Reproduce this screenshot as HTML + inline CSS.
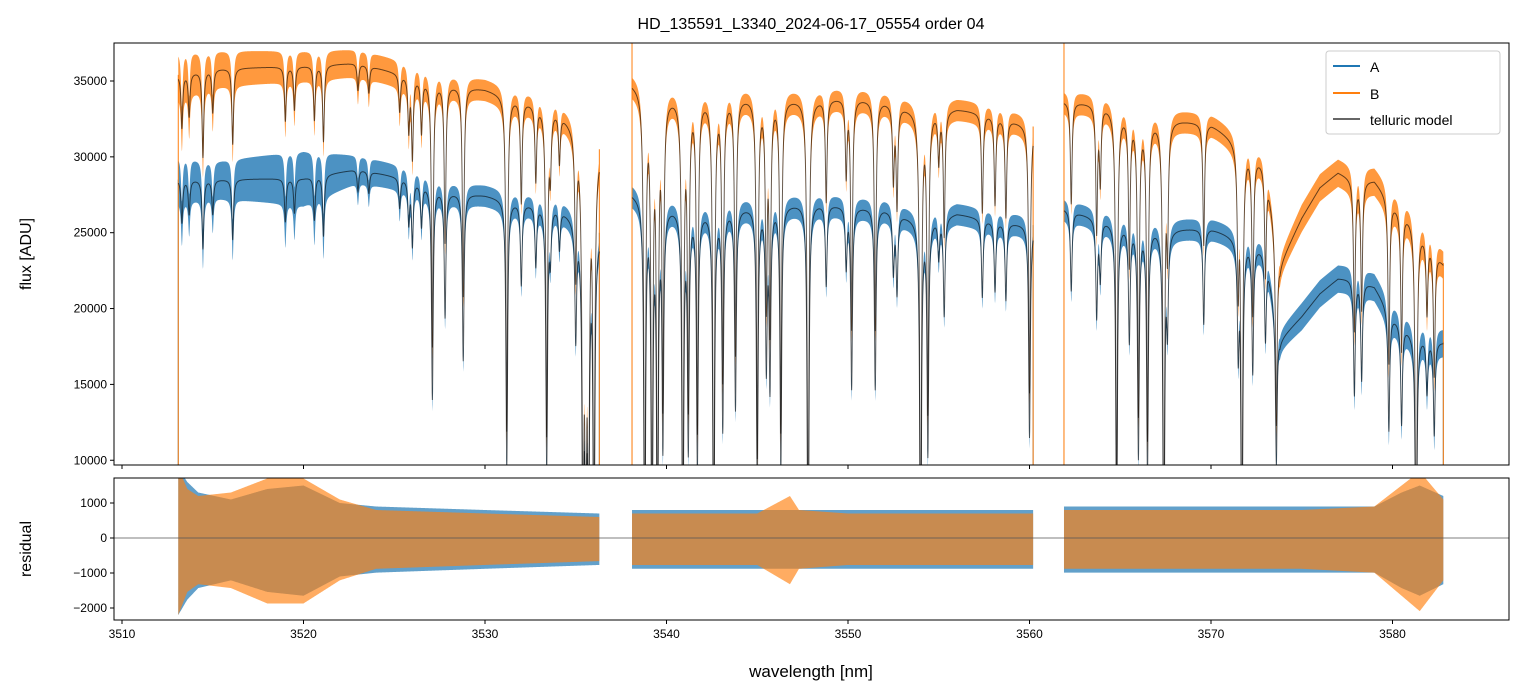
<!DOCTYPE html>
<html><head><meta charset="utf-8"><style>
body{margin:0;background:#fff}
svg{display:block;font-family:"Liberation Sans","DejaVu Sans",sans-serif}
</style></head><body>
<svg id="chart" width="1523" height="696" viewBox="0 0 1523 696">
<defs>
<clipPath id="cm"><rect x="114" y="43" width="1395" height="422"/></clipPath>
<clipPath id="cr"><rect x="114" y="478" width="1395" height="142"/></clipPath>
</defs>
<rect width="1523" height="696" fill="#fff"/>
<text x="811" y="29" text-anchor="middle" font-size="16">HD_135591_L3340_2024-06-17_05554  order 04</text>
<g id="main" clip-path="url(#cm)"></g>
<g id="res" clip-path="url(#cr)"></g>
<g id="axes"></g>
<text transform="translate(31,254) rotate(-90)" text-anchor="middle" font-size="16">flux [ADU]</text>
<text transform="translate(31,549) rotate(-90)" text-anchor="middle" font-size="16">residual</text>
<text x="811" y="677" text-anchor="middle" font-size="17">wavelength [nm]</text>
<g>
<rect x="1326" y="51" width="174" height="83" rx="3" fill="#fff" fill-opacity="0.85" stroke="#ccc"/>
<line x1="1333" y1="66" x2="1360" y2="66" stroke="#1f77b4" stroke-width="2"/>
<text x="1370" y="72" font-size="14">A</text>
<line x1="1333" y1="93" x2="1360" y2="93" stroke="#ff7f0e" stroke-width="2"/>
<text x="1370" y="99" font-size="14">B</text>
<line x1="1333" y1="119" x2="1360" y2="119" stroke="#666" stroke-width="2"/>
<text x="1370" y="125" font-size="14">telluric model</text>
</g>
</svg>
<script>
const segments=[[3513.1,3536.3],[3538.1,3560.2],[3561.9,3582.8]];
const contKnotsWl=[3513.1,3515,3520,3523,3526,3528,3530,3532,3534,3536.3, 3538.1,3540,3542,3545,3548,3550,3552,3554,3556,3558,3560.2, 3561.9,3564,3566,3568,3570,3572,3573,3573.8,3575,3576,3577,3578,3579,3580,3581,3582,3582.8];
const contA=[28500,28500,28600,29200,28500,27700,27500,27000,26800,25000, 27700,26900,26500,26800,27000,26800,26600,25800,26300,25800,25500, 26600,25900,25400,25300,25300,24500,23800,18000,19500,21000,22000,22000,21500,19500,18500,18000,17800];
const contB=[35400,35800,36000,36200,35300,34800,34500,33800,33200,30500, 35000,34200,34000,34000,33800,34000,33700,33000,33200,32800,32000, 33700,33500,32500,32500,32200,30600,29500,23000,26000,28000,29000,28500,28500,27000,26000,24500,23000];
const noiseA=[1500,1200,1800,900,800,700,700,700,700,700, 700,700,700,700,700,700,700,700,700,700,700, 700,700,700,700,700,700,700,700,900,900,900,900,900,900,900,900,900];
const noiseB=[1500,1200,1000,900,900,700,700,700,700,700, 700,700,700,700,700,700,700,700,700,700,700, 700,700,700,700,700,700,700,700,900,900,900,900,900,900,900,900,900];
const lineWl=[3513.3,3513.7,3514.46,3515.0,3516.1,3519.0,3519.5,3520.6,3521.1,3523.0,3523.6,3525.3,3525.8,3526.0,3526.5,3527.1,3527.8,3528.8,3531.2,3532.0,3532.8,3533.4,3533.6,3534.1,3535.0,3535.4,3535.55,3535.7,3536.0,
3538.8,3539.2,3539.5,3539.8,3540.9,3541.2,3541.7,3542.6,3543.1,3543.8,3545.0,3545.5,3545.7,3546.3,3547.8,3548.8,3549.9,3550.2,3551.5,3552.5,3552.7,3554.0,3554.4,3555.0,3555.3,3557.4,3558.1,3558.7,3560.0,
3562.3,3563.7,3563.9,3564.8,3565.5,3566.0,3566.5,3567.4,3567.6,3569.6,3571.5,3571.7,3572.3,3573.0,3573.6,3577.9,3578.3,3579.8,3580.5,3581.3,3581.9,3582.3];
const lineDepth=[0.1,0.08,0.16,0.08,0.14,0.1,0.08,0.1,0.14,0.05,0.05,0.07,0.1,0.15,0.1,0.5,0.3,0.4,0.65,0.2,0.15,0.65,0.12,0.1,0.3,0.95,0.95,0.95,0.95,
0.97,0.95,0.95,0.6,0.97,0.6,0.65,0.97,0.55,0.5,0.7,0.4,0.45,0.65,0.98,0.2,0.15,0.45,0.45,0.15,0.2,0.98,0.6,0.1,0.25,0.2,0.18,0.2,0.55,
0.2,0.25,0.15,0.8,0.3,0.6,0.65,0.98,0.25,0.25,0.3,0.98,0.35,0.25,0.5,0.35,0.3,0.4,0.35,0.98,0.2,0.35];
const resKnotsWl=[3513.1,3513.6,3514.2,3516,3518,3520,3522,3524,3530,3536.3, 3538.1,3545,3546.8,3547.3,3550,3560.2, 3561.9,3565,3570,3575,3579,3580.5,3581.5,3582.8];
const resA=[2000,1600,1300,1100,1400,1500,1000,900,800,700, 800,800,800,800,800,800, 900,900,900,900,900,1300,1500,1200];
const resB=[2000,1400,1200,1300,1700,1700,1100,800,700,600, 700,700,1200,800,700,700, 800,800,800,800,900,1500,1900,1100];
const xTicks=[3510,3520,3530,3540,3550,3560,3570,3580];
const yTicks=[10000,15000,20000,25000,30000,35000];
const rTicks=[-2000,-1000,0,1000];

const NS="http://www.w3.org/2000/svg";
const X=l=>122+(l-3510)*18.15;
const Y=f=>81+(35000-f)*0.01517;
const R=r=>538-r*0.035;
function interp(xs,ys,x){if(x<=xs[0])return ys[0];for(let i=1;i<xs.length;i++){if(x<=xs[i]){const t=(x-xs[i-1])/(xs[i]-xs[i-1]);return ys[i-1]+t*(ys[i]-ys[i-1]);}}return ys[ys.length-1];}
function trans(l){let t=1;for(let i=0;i<lineWl.length;i++){const u=(l-lineWl[i])/0.055;t*=1-lineDepth[i]/(1+u*u);}return t;}
function mk(tag,attrs,parent){const e=document.createElementNS(NS,tag);for(const k in attrs)e.setAttribute(k,attrs[k]);parent.appendChild(e);return e;}
const main=document.getElementById('main'),res=document.getElementById('res'),ax=document.getElementById('axes');
const series=[{c:contA,n:noiseA,col:'#1f77b4',name:'a'},{c:contB,n:noiseB,col:'#ff7f0e',name:'b'}];
const models=[];
series.forEach(s=>{
 segments.forEach((sg,si)=>{
  let up=[],lo=[],md=[];
  for(let l=sg[0];l<=sg[1]+1e-9;l+=0.01){
   const m=interp(contKnotsWl,s.c,l)*trans(l);const n=interp(contKnotsWl,s.n,l);
   up.push(X(l).toFixed(2)+','+Y(m+n).toFixed(2));lo.push(X(l).toFixed(2)+','+Y(m-n).toFixed(2));md.push(X(l).toFixed(2)+','+Y(m).toFixed(2));
  }
  const p=mk('polygon',{points:up.concat(lo.reverse()).join(' '),fill:s.col,'fill-opacity':0.8},main);
  
  
  models.push(md);
  const e1=mk('line',{x1:X(sg[0]),x2:X(sg[0]),y1:470,y2:Y(interp(contKnotsWl,s.c,sg[0])),stroke:s.col,'stroke-width':1},main);
  
  
  const e2=mk('line',{x1:X(sg[1]),x2:X(sg[1]),y1:470,y2:Y(interp(contKnotsWl,s.c,sg[1])),stroke:s.col,'stroke-width':1},main);
  
  
 });
});
[X(3538.1),X(3561.9)].forEach(x=>{const sp=mk('line',{x1:x,x2:x,y1:40,y2:470,stroke:'#ff7f0e','stroke-width':1},main);
 
 });
models.forEach(md=>{const pl=mk('polyline',{points:md.join(' '),fill:'none',stroke:'#000','stroke-opacity':0.6,'stroke-width':1},main);
 
 });
[[resA,'#1f77b4','a'],[resB,'#ff7f0e','b']].forEach(([arr,col,nm])=>{
 segments.forEach(sg=>{
  let up=[],lo=[];
  for(let l=sg[0];l<=sg[1]+1e-9;l+=0.02){const a=interp(resKnotsWl,arr,l);up.push(X(l).toFixed(2)+','+R(a).toFixed(2));lo.push(X(l).toFixed(2)+','+R(-a*1.1).toFixed(2));}
  const p=mk('polygon',{points:up.concat(lo.reverse()).join(' '),fill:col,'fill-opacity':nm==='a'?0.7:0.65},res);
  
  
 });
});
const zl=mk('line',{x1:114,x2:1509,y1:R(0),y2:R(0),stroke:'#555','stroke-width':0.8},res);


[[43,465],[478,620]].forEach(([t,b],i)=>{const r=mk('rect',{x:114,y:t,width:1395,height:b-t,fill:'none',stroke:'#000','stroke-width':1},ax);
 
 
 xTicks.forEach(v=>{const tk=mk('line',{x1:X(v),x2:X(v),y1:b,y2:b+4,stroke:'#000'},ax);
  
  });});
xTicks.forEach(v=>{const t=mk('text',{x:X(v),y:638,'text-anchor':'middle','font-size':12},ax);t.textContent=v;
 
 });
yTicks.forEach(v=>{const tk=mk('line',{x1:110,x2:114,y1:Y(v),y2:Y(v),stroke:'#000'},ax);
 
 
 const t=mk('text',{x:107,y:Y(v)+4,'text-anchor':'end','font-size':12},ax);t.textContent=v;
 
 });
rTicks.forEach(v=>{const tk=mk('line',{x1:110,x2:114,y1:R(v),y2:R(v),stroke:'#000'},ax);
 
 
 const t=mk('text',{x:107,y:R(v)+4,'text-anchor':'end','font-size':12},ax);t.textContent=(v<0?'\u2212'+(-v):v);
 
 });
</script>
</body></html>
